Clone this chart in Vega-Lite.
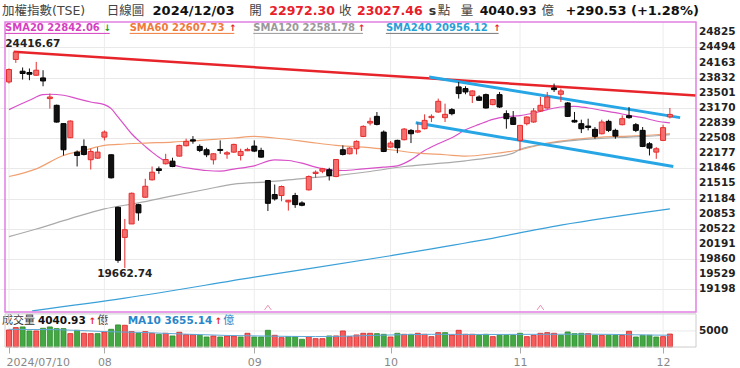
{
  "$schema": "https://vega.github.io/schema/vega-lite/v6.json",
  "width": 740,
  "height": 368,
  "autosize": {"type": "fit", "contains": "padding"},
  "padding": {"left": 0, "top": 0, "right": 4, "bottom": 1},
  "background": "white",
  "config": {
    "view": {"stroke": null},
    "font": "DejaVu Sans, Noto Sans CJK TC",
    "text": {"font": "DejaVu Sans, Noto Sans CJK TC"},
    "axisY": {"labelOverlap": false, "format": "d"},
    "axisX": {"labelOverlap": false, "labelFlush": false}
  },
  "datasets": {
    "candles": [
      {"d":"2024-07-10","i":0,"o":23739,"h":24034,"l":23704,"c":24012},
      {"d":"2024-07-11","i":1,"o":24232,"h":24416.67,"l":24157,"c":24390},
      {"d":"2024-07-12","i":2,"o":23974,"h":24056,"l":23792,"c":23924},
      {"d":"2024-07-15","i":3,"o":23946,"h":24034,"l":23777,"c":23908},
      {"d":"2024-07-16","i":4,"o":23886,"h":24179,"l":23871,"c":23996},
      {"d":"2024-07-17","i":5,"o":23827,"h":23996,"l":23645,"c":23761},
      {"d":"2024-07-18","i":6,"o":23374,"h":23484,"l":23154,"c":23409},
      {"d":"2024-07-19","i":7,"o":23227,"h":23242,"l":22847,"c":22860},
      {"d":"2024-07-22","i":8,"o":22825,"h":22831,"l":22128,"c":22253},
      {"d":"2024-07-23","i":9,"o":22517,"h":22897,"l":22508,"c":22882},
      {"d":"2024-07-26","i":10,"o":22201,"h":22238,"l":21887,"c":22128},
      {"d":"2024-07-29","i":11,"o":22326,"h":22480,"l":22128,"c":22150},
      {"d":"2024-07-30","i":12,"o":22034,"h":22275,"l":21820,"c":22216},
      {"d":"2024-07-31","i":13,"o":22069,"h":22311,"l":22055,"c":22201},
      {"d":"2024-08-01","i":14,"o":22530,"h":22677,"l":22458,"c":22640},
      {"d":"2024-08-02","i":15,"o":22143,"h":22150,"l":21623,"c":21638},
      {"d":"2024-08-05","i":16,"o":20992,"h":21007,"l":19776,"c":19831},
      {"d":"2024-08-06","i":17,"o":20332,"h":20737,"l":19662.74,"c":20501},
      {"d":"2024-08-07","i":18,"o":20627,"h":21315,"l":20627,"c":21299},
      {"d":"2024-08-08","i":19,"o":21049,"h":21067,"l":20699,"c":20870},
      {"d":"2024-08-09","i":20,"o":21212,"h":21616,"l":21198,"c":21453},
      {"d":"2024-08-12","i":21,"o":21594,"h":21886,"l":21579,"c":21761},
      {"d":"2024-08-13","i":22,"o":21835,"h":21886,"l":21726,"c":21798},
      {"d":"2024-08-14","i":23,"o":21946,"h":22165,"l":21930,"c":22040},
      {"d":"2024-08-15","i":24,"o":22003,"h":22078,"l":21871,"c":21886},
      {"d":"2024-08-16","i":25,"o":22113,"h":22363,"l":22106,"c":22348},
      {"d":"2024-08-19","i":26,"o":22341,"h":22495,"l":22326,"c":22436},
      {"d":"2024-08-20","i":27,"o":22472,"h":22552,"l":22385,"c":22443},
      {"d":"2024-08-21","i":28,"o":22326,"h":22370,"l":22201,"c":22238},
      {"d":"2024-08-22","i":29,"o":22253,"h":22297,"l":22091,"c":22143},
      {"d":"2024-08-23","i":30,"o":22033,"h":22179,"l":21930,"c":22165},
      {"d":"2024-08-26","i":31,"o":22260,"h":22458,"l":22165,"c":22238},
      {"d":"2024-08-27","i":32,"o":22157,"h":22223,"l":22055,"c":22187},
      {"d":"2024-08-28","i":33,"o":22201,"h":22385,"l":22187,"c":22370},
      {"d":"2024-08-29","i":34,"o":22128,"h":22275,"l":22018,"c":22216},
      {"d":"2024-08-30","i":35,"o":22231,"h":22297,"l":22223,"c":22260},
      {"d":"2024-09-02","i":36,"o":22333,"h":22458,"l":22201,"c":22223},
      {"d":"2024-09-03","i":37,"o":22238,"h":22297,"l":22077,"c":22091},
      {"d":"2024-09-04","i":38,"o":21578,"h":21578,"l":20910,"c":21079},
      {"d":"2024-09-05","i":39,"o":21271,"h":21491,"l":21139,"c":21176},
      {"d":"2024-09-06","i":40,"o":21249,"h":21469,"l":21124,"c":21447},
      {"d":"2024-09-09","i":41,"o":21110,"h":21154,"l":20919,"c":21146},
      {"d":"2024-09-10","i":42,"o":21249,"h":21308,"l":20979,"c":21051},
      {"d":"2024-09-11","i":43,"o":21087,"h":21124,"l":21014,"c":21036},
      {"d":"2024-09-12","i":44,"o":21374,"h":21689,"l":21359,"c":21667},
      {"d":"2024-09-13","i":45,"o":21732,"h":21798,"l":21638,"c":21761},
      {"d":"2024-09-16","i":46,"o":21783,"h":21857,"l":21739,"c":21835},
      {"d":"2024-09-18","i":47,"o":21813,"h":21857,"l":21579,"c":21688},
      {"d":"2024-09-19","i":48,"o":21666,"h":22040,"l":21651,"c":22040},
      {"d":"2024-09-20","i":49,"o":22253,"h":22348,"l":22128,"c":22150},
      {"d":"2024-09-23","i":50,"o":22165,"h":22311,"l":22150,"c":22289},
      {"d":"2024-09-24","i":51,"o":22275,"h":22458,"l":22150,"c":22436},
      {"d":"2024-09-25","i":52,"o":22545,"h":22787,"l":22530,"c":22765},
      {"d":"2024-09-26","i":53,"o":22838,"h":22957,"l":22787,"c":22875},
      {"d":"2024-09-27","i":54,"o":22985,"h":23080,"l":22787,"c":22809},
      {"d":"2024-09-30","i":55,"o":22640,"h":22677,"l":22201,"c":22216},
      {"d":"2024-10-01","i":56,"o":22311,"h":22443,"l":22297,"c":22399},
      {"d":"2024-10-04","i":57,"o":22458,"h":22473,"l":22179,"c":22297},
      {"d":"2024-10-07","i":58,"o":22473,"h":22728,"l":22458,"c":22706},
      {"d":"2024-10-08","i":59,"o":22677,"h":22706,"l":22399,"c":22604},
      {"d":"2024-10-09","i":60,"o":22640,"h":22853,"l":22618,"c":22670},
      {"d":"2024-10-11","i":61,"o":22714,"h":23029,"l":22699,"c":22897},
      {"d":"2024-10-14","i":62,"o":22957,"h":23029,"l":22860,"c":22985},
      {"d":"2024-10-15","i":63,"o":23080,"h":23374,"l":23066,"c":23315},
      {"d":"2024-10-16","i":64,"o":22956,"h":23264,"l":22860,"c":23029},
      {"d":"2024-10-17","i":65,"o":23132,"h":23168,"l":23007,"c":23044},
      {"d":"2024-10-18","i":66,"o":23630,"h":23739,"l":23374,"c":23484},
      {"d":"2024-10-21","i":67,"o":23593,"h":23645,"l":23469,"c":23520},
      {"d":"2024-10-22","i":68,"o":23440,"h":23557,"l":23278,"c":23542},
      {"d":"2024-10-23","i":69,"o":23410,"h":23447,"l":23322,"c":23337},
      {"d":"2024-10-24","i":70,"o":23461,"h":23484,"l":23154,"c":23168},
      {"d":"2024-10-25","i":71,"o":23242,"h":23366,"l":23227,"c":23352},
      {"d":"2024-10-28","i":72,"o":23461,"h":23520,"l":23168,"c":23190},
      {"d":"2024-10-29","i":73,"o":23044,"h":23117,"l":22714,"c":22934},
      {"d":"2024-10-30","i":74,"o":22956,"h":23102,"l":22795,"c":22809},
      {"d":"2024-11-01","i":75,"o":22458,"h":22787,"l":22238,"c":22787},
      {"d":"2024-11-04","i":76,"o":22824,"h":22985,"l":22787,"c":22971},
      {"d":"2024-11-05","i":77,"o":22861,"h":23168,"l":22846,"c":23103},
      {"d":"2024-11-06","i":78,"o":23103,"h":23410,"l":23081,"c":23227},
      {"d":"2024-11-07","i":79,"o":23168,"h":23520,"l":23154,"c":23410},
      {"d":"2024-11-08","i":80,"o":23608,"h":23703,"l":23520,"c":23571},
      {"d":"2024-11-11","i":81,"o":23469,"h":23593,"l":23300,"c":23542},
      {"d":"2024-11-12","i":82,"o":23278,"h":23300,"l":22971,"c":22985},
      {"d":"2024-11-13","i":83,"o":22897,"h":23081,"l":22846,"c":22861},
      {"d":"2024-11-14","i":84,"o":22824,"h":22912,"l":22619,"c":22714},
      {"d":"2024-11-15","i":85,"o":22773,"h":22934,"l":22677,"c":22743},
      {"d":"2024-11-18","i":86,"o":22700,"h":22751,"l":22494,"c":22546},
      {"d":"2024-11-19","i":87,"o":22604,"h":22912,"l":22590,"c":22861},
      {"d":"2024-11-20","i":88,"o":22875,"h":22912,"l":22641,"c":22678},
      {"d":"2024-11-21","i":89,"o":22678,"h":22714,"l":22494,"c":22553},
      {"d":"2024-11-22","i":90,"o":22802,"h":23007,"l":22787,"c":22934},
      {"d":"2024-11-25","i":91,"o":22999,"h":23190,"l":22934,"c":22956},
      {"d":"2024-11-26","i":92,"o":22802,"h":22839,"l":22641,"c":22678},
      {"d":"2024-11-27","i":93,"o":22678,"h":22751,"l":22311,"c":22326},
      {"d":"2024-11-28","i":94,"o":22384,"h":22421,"l":22128,"c":22289},
      {"d":"2024-11-29","i":95,"o":22201,"h":22311,"l":22055,"c":22275},
      {"d":"2024-12-02","i":96,"o":22458,"h":22802,"l":22443,"c":22736.93},
      {"d":"2024-12-03","i":97,"o":22972.3,"h":23168,"l":22940,"c":23027.46}
    ],
    "vol": [
      {"i":0,"v":5312,"dir":"up"},{"i":1,"v":6042,"dir":"up"},{"i":2,"v":6250,"dir":"down"},{"i":3,"v":5000,"dir":"down"},
      {"i":4,"v":5000,"dir":"up"},{"i":5,"v":5833,"dir":"down"},{"i":6,"v":6250,"dir":"down"},{"i":7,"v":5729,"dir":"down"},
      {"i":8,"v":5729,"dir":"down"},{"i":9,"v":4167,"dir":"up"},{"i":10,"v":5208,"dir":"down"},{"i":11,"v":4271,"dir":"up"},
      {"i":12,"v":4167,"dir":"up"},{"i":13,"v":4167,"dir":"down"},{"i":14,"v":4688,"dir":"up"},{"i":15,"v":5521,"dir":"down"},
      {"i":16,"v":6875,"dir":"down"},{"i":17,"v":6771,"dir":"up"},{"i":18,"v":4792,"dir":"up"},{"i":19,"v":4271,"dir":"down"},
      {"i":20,"v":4792,"dir":"up"},{"i":21,"v":4271,"dir":"up"},{"i":22,"v":3958,"dir":"down"},{"i":23,"v":4271,"dir":"up"},
      {"i":24,"v":3438,"dir":"down"},{"i":25,"v":4583,"dir":"up"},{"i":26,"v":3854,"dir":"up"},{"i":27,"v":3854,"dir":"up"},
      {"i":28,"v":3646,"dir":"down"},{"i":29,"v":3125,"dir":"down"},{"i":30,"v":3438,"dir":"up"},{"i":31,"v":3125,"dir":"down"},
      {"i":32,"v":3438,"dir":"up"},{"i":33,"v":3438,"dir":"up"},{"i":34,"v":3125,"dir":"down"},{"i":35,"v":4271,"dir":"up"},
      {"i":36,"v":3125,"dir":"down"},{"i":37,"v":3125,"dir":"down"},{"i":38,"v":5208,"dir":"down"},{"i":39,"v":3646,"dir":"up"},
      {"i":40,"v":2917,"dir":"up"},{"i":41,"v":3229,"dir":"down"},{"i":42,"v":3229,"dir":"down"},{"i":43,"v":2396,"dir":"down"},
      {"i":44,"v":3229,"dir":"up"},{"i":45,"v":2604,"dir":"up"},{"i":46,"v":2604,"dir":"up"},{"i":47,"v":3438,"dir":"down"},
      {"i":48,"v":3438,"dir":"up"},{"i":49,"v":5000,"dir":"up"},{"i":50,"v":3229,"dir":"up"},{"i":51,"v":3750,"dir":"up"},
      {"i":52,"v":4271,"dir":"up"},{"i":53,"v":4271,"dir":"up"},{"i":54,"v":4167,"dir":"down"},{"i":55,"v":3958,"dir":"down"},
      {"i":56,"v":3125,"dir":"up"},{"i":57,"v":4271,"dir":"down"},{"i":58,"v":3958,"dir":"up"},{"i":59,"v":3958,"dir":"down"},
      {"i":60,"v":4271,"dir":"up"},{"i":61,"v":3958,"dir":"up"},{"i":62,"v":3229,"dir":"up"},{"i":63,"v":4479,"dir":"up"},
      {"i":64,"v":4479,"dir":"down"},{"i":65,"v":3750,"dir":"up"},{"i":66,"v":5208,"dir":"up"},{"i":67,"v":3958,"dir":"up"},
      {"i":68,"v":3958,"dir":"up"},{"i":69,"v":3646,"dir":"down"},{"i":70,"v":3958,"dir":"down"},{"i":71,"v":3229,"dir":"up"},
      {"i":72,"v":3646,"dir":"down"},{"i":73,"v":3646,"dir":"down"},{"i":74,"v":3646,"dir":"down"},{"i":75,"v":4271,"dir":"down"},
      {"i":76,"v":3229,"dir":"up"},{"i":77,"v":3646,"dir":"up"},{"i":78,"v":4271,"dir":"up"},{"i":79,"v":4479,"dir":"up"},
      {"i":80,"v":4271,"dir":"up"},{"i":81,"v":3646,"dir":"down"},{"i":82,"v":4688,"dir":"down"},{"i":83,"v":4167,"dir":"down"},
      {"i":84,"v":4271,"dir":"down"},{"i":85,"v":4167,"dir":"up"},{"i":86,"v":3646,"dir":"down"},{"i":87,"v":3646,"dir":"up"},
      {"i":88,"v":3646,"dir":"down"},{"i":89,"v":3646,"dir":"down"},{"i":90,"v":3646,"dir":"up"},{"i":91,"v":4896,"dir":"up"},
      {"i":92,"v":3125,"dir":"down"},{"i":93,"v":3646,"dir":"down"},{"i":94,"v":3646,"dir":"down"},{"i":95,"v":3125,"dir":"down"},
      {"i":96,"v":3229,"dir":"up"},{"i":97,"v":4040.93,"dir":"up"}
    ],
    "vma": [
      {"i":0,"v":5500},{"i":7,"v":5400},{"i":14,"v":4800},{"i":20,"v":4500},{"i":26,"v":4000},{"i":32,"v":3600},
      {"i":38,"v":3400},{"i":45,"v":3250},{"i":50,"v":3400},{"i":55,"v":3700},{"i":62,"v":3950},{"i":70,"v":3900},
      {"i":78,"v":3950},{"i":85,"v":4000},{"i":92,"v":3800},{"i":97,"v":3655.14}
    ],
    "sma": [
      {"s":"SMA20","i":0,"v":23132},{"s":"SMA20","i":3,"v":23337},{"s":"SMA20","i":5,"v":23461},{"s":"SMA20","i":6,"v":23469},
      {"s":"SMA20","i":8,"v":23447},{"s":"SMA20","i":10,"v":23374},{"s":"SMA20","i":12,"v":23300},{"s":"SMA20","i":14,"v":23242},
      {"s":"SMA20","i":15,"v":23154},{"s":"SMA20","i":16,"v":22971},{"s":"SMA20","i":17,"v":22788},{"s":"SMA20","i":18,"v":22604},
      {"s":"SMA20","i":19,"v":22458},{"s":"SMA20","i":20,"v":22326},{"s":"SMA20","i":21,"v":22201},{"s":"SMA20","i":22,"v":22091},
      {"s":"SMA20","i":23,"v":22003},{"s":"SMA20","i":24,"v":21930},{"s":"SMA20","i":25,"v":21886},{"s":"SMA20","i":27,"v":21835},
      {"s":"SMA20","i":29,"v":21798},{"s":"SMA20","i":31,"v":21784},{"s":"SMA20","i":33,"v":21830},{"s":"SMA20","i":36,"v":21901},
      {"s":"SMA20","i":39,"v":22033},{"s":"SMA20","i":41,"v":22018},{"s":"SMA20","i":43,"v":21960},{"s":"SMA20","i":45,"v":21872},
      {"s":"SMA20","i":47,"v":21813},{"s":"SMA20","i":49,"v":21798},{"s":"SMA20","i":52,"v":21835},{"s":"SMA20","i":55,"v":21872},
      {"s":"SMA20","i":57,"v":21901},{"s":"SMA20","i":59,"v":22033},{"s":"SMA20","i":61,"v":22238},{"s":"SMA20","i":63,"v":22384},
      {"s":"SMA20","i":65,"v":22516},{"s":"SMA20","i":67,"v":22690},{"s":"SMA20","i":69,"v":22809},{"s":"SMA20","i":71,"v":22919},
      {"s":"SMA20","i":73,"v":22978},{"s":"SMA20","i":75,"v":23000},{"s":"SMA20","i":77,"v":23058},{"s":"SMA20","i":79,"v":23132},
      {"s":"SMA20","i":81,"v":23190},{"s":"SMA20","i":83,"v":23205},{"s":"SMA20","i":85,"v":23168},{"s":"SMA20","i":87,"v":23117},
      {"s":"SMA20","i":89,"v":23066},{"s":"SMA20","i":91,"v":23007},{"s":"SMA20","i":93,"v":22956},{"s":"SMA20","i":95,"v":22883},
      {"s":"SMA20","i":97,"v":22842.06},
      {"s":"SMA60","i":0,"v":21666},{"s":"SMA60","i":4,"v":21835},{"s":"SMA60","i":8,"v":22128},{"s":"SMA60","i":11,"v":22238},
      {"s":"SMA60","i":14,"v":22348},{"s":"SMA60","i":16,"v":22370},{"s":"SMA60","i":20,"v":22399},{"s":"SMA60","i":24,"v":22421},
      {"s":"SMA60","i":28,"v":22458},{"s":"SMA60","i":33,"v":22510},{"s":"SMA60","i":36,"v":22546},{"s":"SMA60","i":40,"v":22494},
      {"s":"SMA60","i":44,"v":22421},{"s":"SMA60","i":48,"v":22348},{"s":"SMA60","i":52,"v":22311},{"s":"SMA60","i":56,"v":22253},
      {"s":"SMA60","i":60,"v":22179},{"s":"SMA60","i":64,"v":22143},{"s":"SMA60","i":67,"v":22113},{"s":"SMA60","i":71,"v":22165},
      {"s":"SMA60","i":75,"v":22253},{"s":"SMA60","i":79,"v":22399},{"s":"SMA60","i":83,"v":22480},{"s":"SMA60","i":87,"v":22531},
      {"s":"SMA60","i":91,"v":22553},{"s":"SMA60","i":95,"v":22582},{"s":"SMA60","i":97,"v":22607.73},
      {"s":"SMA120","i":0,"v":20348},{"s":"SMA120","i":4,"v":20516},{"s":"SMA120","i":9,"v":20743},{"s":"SMA120","i":14,"v":20956},
      {"s":"SMA120","i":19,"v":21088},{"s":"SMA120","i":24,"v":21242},{"s":"SMA120","i":29,"v":21388},{"s":"SMA120","i":33,"v":21500},
      {"s":"SMA120","i":38,"v":21549},{"s":"SMA120","i":43,"v":21622},{"s":"SMA120","i":48,"v":21688},{"s":"SMA120","i":53,"v":21776},
      {"s":"SMA120","i":58,"v":21886},{"s":"SMA120","i":62,"v":21940},{"s":"SMA120","i":67,"v":22010},{"s":"SMA120","i":71,"v":22090},
      {"s":"SMA120","i":74,"v":22179},{"s":"SMA120","i":75,"v":22260},{"s":"SMA120","i":79,"v":22384},{"s":"SMA120","i":83,"v":22458},
      {"s":"SMA120","i":87,"v":22502},{"s":"SMA120","i":91,"v":22531},{"s":"SMA120","i":95,"v":22560},{"s":"SMA120","i":97,"v":22581.78},
      {"s":"SMA240","i":3.4,"v":18721},{"s":"SMA240","i":17,"v":19000},{"s":"SMA240","i":36,"v":19460},{"s":"SMA240","i":56,"v":19930},
      {"s":"SMA240","i":69,"v":20260},{"s":"SMA240","i":81,"v":20600},{"s":"SMA240","i":97,"v":20956.12}
    ],
    "trend": [
      {"k":"R","i":0.69,"v":24400},{"k":"R","i":100.83,"v":23443},
      {"k":"U","i":61.66,"v":23849},{"k":"U","i":98.5,"v":22957},
      {"k":"L","i":59.7,"v":22847},{"k":"L","i":97.5,"v":21886}
    ],
    "months": [
      {"i":0,"m":"2024/07/10"},{"i":14,"m":"08"},{"i":36,"m":"09"},{"i":56,"m":"10"},{"i":75,"m":"11"},{"i":96,"m":"12"}
    ],
    "yticks": [
      {"v":24825},{"v":24494},{"v":24163},{"v":23832},{"v":23501},{"v":23170},{"v":22839},{"v":22508},{"v":22177},
      {"v":21846},{"v":21515},{"v":21184},{"v":20853},{"v":20522},{"v":20191},{"v":19860},{"v":19529},{"v":19198}
    ],
    "ext": [
      {"i":1,"v":24416.67,"k":"high"},{"i":17,"v":19662.74,"k":"low"}
    ],
    "signals": [{"i":38},{"i":78}]
  },
  "resolve": {"scale": {"y": "independent"}},
  "layer": [
    {
      "layer": [
        {
          "data": {"name": "months"},
          "mark": {"type": "rule", "color": "#ececec", "strokeWidth": 1},
          "encoding": {
            "x": {"field": "i", "type": "quantitative", "title": null,
                  "scale": {"domain": [-0.585, 100.83], "nice": false, "zero": false},
                  "axis": {"values": [0, 14, 36, 56, 75, 96],
                           "labelExpr": "datum.value == 0 ? '2024/07/10' : datum.value == 14 ? '08' : datum.value == 36 ? '09' : datum.value == 56 ? '10' : datum.value == 75 ? '11' : '12'",
                           "grid": false, "domain": false, "ticks": true, "tickSize": 6, "tickColor": "#aaaaaa",
                           "labelColor": "#888888", "labelFontSize": 11, "labelFont": "DejaVu Sans", "labelPadding": 3,
                           "labelFlush": false, "labelOverlap": false, "title": null,
                           "labelAlign": {"condition": {"test": "datum.value == 0", "value": "left"}, "value": "center"},
                           "labelOffset": {"condition": {"test": "datum.value == 0", "value": -3}, "value": 0}}},
            "y": {"datum": 18699, "title": null,
                  "scale": {"domain": [17930, 25535], "nice": false, "zero": false},
                  "axis": {"orient": "right", "title": null,
                           "values": [24825, 24494, 24163, 23832, 23501, 23170, 22839, 22508, 22177, 21846, 21515, 21184, 20853, 20522, 20191, 19860, 19529, 19198],
                           "grid": true, "gridColor": "#e9e9e9", "ticks": false, "domain": false, "labels": false}},
            "y2": {"datum": 25051}
          }
        },
        {
          "data": {"name": "sma"},
          "mark": {"type": "line", "interpolate": "monotone", "strokeWidth": 1.2, "clip": true},
          "encoding": {
            "x": {"field": "i", "type": "quantitative", "title": null},
            "y": {"field": "v", "type": "quantitative", "title": null},
            "color": {"field": "s", "type": "nominal", "legend": null,
                      "scale": {"domain": ["SMA20", "SMA60", "SMA120", "SMA240"], "range": ["#d850c8", "#f0a070", "#aaaaaa", "#3aa0d8"]}}
          }
        },
        {
          "data": {"name": "trend"},
          "transform": [{"filter": "datum.k == 'R'"}],
          "mark": {"type": "line", "color": "#e8242b", "strokeWidth": 2.5},
          "encoding": {
            "x": {"field": "i", "type": "quantitative", "title": null},
            "y": {"field": "v", "type": "quantitative", "title": null}
          }
        },
        {
          "data": {"name": "trend"},
          "transform": [{"filter": "datum.k != 'R'"}],
          "mark": {"type": "line", "color": "#27a6e6", "strokeWidth": 3},
          "encoding": {
            "x": {"field": "i", "type": "quantitative", "title": null},
            "y": {"field": "v", "type": "quantitative", "title": null},
            "detail": {"field": "k"}
          }
        },
        {
          "data": {"name": "candles"},
          "mark": {"type": "rule", "strokeWidth": 1},
          "encoding": {
            "x": {"field": "i", "type": "quantitative", "title": null},
            "y": {"field": "l", "type": "quantitative", "title": null},
            "y2": {"field": "h"},
            "color": {"condition": {"test": "datum.c >= datum.o", "value": "#e52d2d"}, "value": "#111111"}
          }
        },
        {
          "data": {"name": "candles"},
          "mark": {"type": "bar", "size": 5, "strokeWidth": 1},
          "encoding": {
            "x": {"field": "i", "type": "quantitative", "title": null},
            "y": {"field": "o", "type": "quantitative", "title": null},
            "y2": {"field": "c"},
            "fill": {"condition": {"test": "datum.c >= datum.o", "value": "#f56e6e"}, "value": "#111111"},
            "stroke": {"condition": {"test": "datum.c >= datum.o", "value": "#e52d2d"}, "value": "#000000"}
          }
        },
        {
          "data": {"name": "signals"},
          "mark": {"type": "point", "shape": "M-1,0.7L0,-0.7L1,0.7", "filled": false, "size": 45, "stroke": "#ec8fb0", "strokeWidth": 1, "opacity": 1},
          "encoding": {
            "x": {"field": "i", "type": "quantitative", "title": null},
            "y": {"datum": 18794}
          }
        },
        {
          "data": {"name": "ext"},
          "transform": [{"filter": "datum.k == 'high'"}],
          "mark": {"type": "text", "align": "left", "baseline": "middle", "dx": -10.5, "dy": -6.7, "fontSize": 10.5, "fontWeight": "bold", "color": "#222222", "font": "DejaVu Sans"},
          "encoding": {
            "x": {"field": "i", "type": "quantitative", "title": null},
            "y": {"field": "v", "type": "quantitative", "title": null},
            "text": {"field": "v", "type": "quantitative", "format": ".2f"}
          }
        },
        {
          "data": {"name": "ext"},
          "transform": [{"filter": "datum.k == 'low'"}],
          "mark": {"type": "text", "align": "center", "baseline": "middle", "dx": 0, "dy": 5.6, "fontSize": 10.5, "fontWeight": "bold", "color": "#222222", "font": "DejaVu Sans"},
          "encoding": {
            "x": {"field": "i", "type": "quantitative", "title": null},
            "y": {"field": "v", "type": "quantitative", "title": null},
            "text": {"field": "v", "type": "quantitative", "format": ".2f"}
          }
        },
        {
          "data": {"name": "yticks"},
          "mark": {"type": "text", "align": "left", "baseline": "middle", "dx": 3, "fontSize": 10.5, "fontWeight": "bold", "color": "#222222", "font": "DejaVu Sans"},
          "encoding": {
            "x": {"datum": 100.83},
            "y": {"field": "v", "type": "quantitative", "title": null},
            "text": {"field": "v", "type": "quantitative", "format": "d"}
          }
        },
        {
          "data": {"values": [{}]},
          "mark": {"type": "rect", "fillOpacity": 0, "stroke": "#e27fe2", "strokeWidth": 1.5},
          "encoding": {
            "x": {"datum": -0.585}, "x2": {"datum": 100.83},
            "y": {"datum": 18699}, "y2": {"datum": 25051}
          }
        },
        {"data": {"values": [{}]}, "mark": {"type": "text", "align": "left", "baseline": "middle", "fontSize": 12.5, "color": "#444444", "text": "加權指數(TSE)"},
         "encoding": {"x": {"datum": -1.024}, "y": {"datum": 25293}}},
        {"data": {"values": [{}]}, "mark": {"type": "text", "align": "left", "baseline": "middle", "fontSize": 12.5, "color": "#444444", "text": "日線圖"},
         "encoding": {"x": {"datum": 14.342}, "y": {"datum": 25293}}},
        {"data": {"values": [{}]}, "mark": {"type": "text", "align": "left", "baseline": "middle", "fontSize": 13, "fontWeight": "bold", "color": "#111111", "text": "2024/12/03"},
         "encoding": {"x": {"datum": 21.074}, "y": {"datum": 25293}}},
        {"data": {"values": [{}]}, "mark": {"type": "text", "align": "left", "baseline": "middle", "fontSize": 12.5, "color": "#444444", "text": "開"},
         "encoding": {"x": {"datum": 35.27}, "y": {"datum": 25293}}},
        {"data": {"values": [{}]}, "mark": {"type": "text", "align": "left", "baseline": "middle", "fontSize": 12.5, "fontWeight": "bold", "color": "#e8202a", "text": "22972.30"},
         "encoding": {"x": {"datum": 38.197}, "y": {"datum": 25293}}},
        {"data": {"values": [{}]}, "mark": {"type": "text", "align": "left", "baseline": "middle", "fontSize": 12.5, "color": "#444444", "text": "收"},
         "encoding": {"x": {"datum": 48.441}, "y": {"datum": 25293}}},
        {"data": {"values": [{}]}, "mark": {"type": "text", "align": "left", "baseline": "middle", "fontSize": 12.5, "fontWeight": "bold", "color": "#e8202a", "text": "23027.46"},
         "encoding": {"x": {"datum": 51.075}, "y": {"datum": 25293}}},
        {"data": {"values": [{}]}, "mark": {"type": "text", "align": "left", "baseline": "middle", "fontSize": 12.5, "fontWeight": "bold", "color": "#333333", "text": "s"},
         "encoding": {"x": {"datum": 61.612}, "y": {"datum": 25293}}},
        {"data": {"values": [{}]}, "mark": {"type": "text", "align": "left", "baseline": "middle", "fontSize": 12.5, "color": "#444444", "text": "點"},
         "encoding": {"x": {"datum": 62.929}, "y": {"datum": 25293}}},
        {"data": {"values": [{}]}, "mark": {"type": "text", "align": "left", "baseline": "middle", "fontSize": 12.5, "color": "#444444", "text": "量"},
         "encoding": {"x": {"datum": 66.296}, "y": {"datum": 25293}}},
        {"data": {"values": [{}]}, "mark": {"type": "text", "align": "left", "baseline": "middle", "fontSize": 12.5, "fontWeight": "bold", "color": "#111111", "text": "4040.93"},
         "encoding": {"x": {"datum": 69.076}, "y": {"datum": 25293}}},
        {"data": {"values": [{}]}, "mark": {"type": "text", "align": "left", "baseline": "middle", "fontSize": 12.5, "color": "#444444", "text": "億"},
         "encoding": {"x": {"datum": 78.15}, "y": {"datum": 25293}}},
        {"data": {"values": [{}]}, "mark": {"type": "text", "align": "left", "baseline": "middle", "fontSize": 13, "fontWeight": "bold", "color": "#111111", "text": "+290.53 (+1.28%)"},
         "encoding": {"x": {"datum": 81.662}, "y": {"datum": 25293}}},
        {"data": {"values": [{}]}, "mark": {"type": "text", "align": "left", "baseline": "middle", "fontSize": 10, "fontWeight": "bold", "color": "#d63fbf", "text": "SMA20 22842.06"},
         "encoding": {"x": {"datum": -0.585}, "y": {"datum": 24920}}},
        {"data": {"values": [{}]}, "mark": {"type": "text", "align": "left", "baseline": "middle", "fontSize": 9, "fontWeight": "bold", "color": "#1f9a1f", "text": "↓"},
         "encoding": {"x": {"datum": 13.903}, "y": {"datum": 24920}}},
        {"data": {"values": [{}]}, "mark": {"type": "text", "align": "left", "baseline": "middle", "fontSize": 10, "fontWeight": "bold", "color": "#f07a3a", "text": "SMA60 22607.73"},
         "encoding": {"x": {"datum": 17.708}, "y": {"datum": 24920}}},
        {"data": {"values": [{}]}, "mark": {"type": "text", "align": "left", "baseline": "middle", "fontSize": 9, "fontWeight": "bold", "color": "#e8202a", "text": "↑"},
         "encoding": {"x": {"datum": 32.343}, "y": {"datum": 24920}}},
        {"data": {"values": [{}]}, "mark": {"type": "text", "align": "left", "baseline": "middle", "fontSize": 10, "fontWeight": "bold", "color": "#999999", "text": "SMA120 22581.78"},
         "encoding": {"x": {"datum": 35.856}, "y": {"datum": 24920}}},
        {"data": {"values": [{}]}, "mark": {"type": "text", "align": "left", "baseline": "middle", "fontSize": 9, "fontWeight": "bold", "color": "#e8202a", "text": "↑"},
         "encoding": {"x": {"datum": 51.222}, "y": {"datum": 24920}}},
        {"data": {"values": [{}]}, "mark": {"type": "text", "align": "left", "baseline": "middle", "fontSize": 10, "fontWeight": "bold", "color": "#2a9fd6", "text": "SMA240 20956.12"},
         "encoding": {"x": {"datum": 55.32}, "y": {"datum": 24920}}},
        {"data": {"values": [{}]}, "mark": {"type": "text", "align": "left", "baseline": "middle", "fontSize": 9, "fontWeight": "bold", "color": "#e8202a", "text": "↑"},
         "encoding": {"x": {"datum": 71.126}, "y": {"datum": 24920}}},
        {"data": {"values": [{}]}, "mark": {"type": "rule", "color": "#d63fbf", "strokeWidth": 1},
         "encoding": {"x": {"datum": -0.585}, "x2": {"datum": 14.78}, "y": {"datum": 24803}}},
        {"data": {"values": [{}]}, "mark": {"type": "rule", "color": "#f07a3a", "strokeWidth": 1},
         "encoding": {"x": {"datum": 17.708}, "x2": {"datum": 33.07}, "y": {"datum": 24803}}},
        {"data": {"values": [{}]}, "mark": {"type": "rule", "color": "#999999", "strokeWidth": 1},
         "encoding": {"x": {"datum": 35.856}, "x2": {"datum": 51.95}, "y": {"datum": 24803}}},
        {"data": {"values": [{}]}, "mark": {"type": "rule", "color": "#777777", "strokeWidth": 1},
         "encoding": {"x": {"datum": 55.32}, "x2": {"datum": 71.86}, "y": {"datum": 24803}}},
        {"data": {"values": [{}]}, "mark": {"type": "text", "align": "left", "baseline": "middle", "fontSize": 11, "color": "#333333", "text": "成交量"},
         "encoding": {"x": {"datum": -1.024}, "y": {"datum": 18505}}},
        {"data": {"values": [{}]}, "mark": {"type": "text", "align": "left", "baseline": "middle", "fontSize": 10.5, "fontWeight": "bold", "color": "#111111", "text": "4040.93"},
         "encoding": {"x": {"datum": 4.244}, "y": {"datum": 18505}}},
        {"data": {"values": [{}]}, "mark": {"type": "text", "align": "left", "baseline": "middle", "fontSize": 9, "fontWeight": "bold", "color": "#e8202a", "text": "↑"},
         "encoding": {"x": {"datum": 11.708}, "y": {"datum": 18505}}},
        {"data": {"values": [{}]}, "mark": {"type": "text", "align": "left", "baseline": "middle", "fontSize": 11, "color": "#333333", "text": "億"},
         "encoding": {"x": {"datum": 12.95}, "y": {"datum": 18505}}},
        {"data": {"values": [{}]}, "mark": {"type": "text", "align": "left", "baseline": "middle", "fontSize": 10.5, "fontWeight": "bold", "color": "#2a86c8", "text": "MA10 3655.14"},
         "encoding": {"x": {"datum": 17.415}, "y": {"datum": 18505}}},
        {"data": {"values": [{}]}, "mark": {"type": "text", "align": "left", "baseline": "middle", "fontSize": 9, "fontWeight": "bold", "color": "#e8202a", "text": "↑"},
         "encoding": {"x": {"datum": 30.2}, "y": {"datum": 18505}}},
        {"data": {"values": [{}]}, "mark": {"type": "text", "align": "left", "baseline": "middle", "fontSize": 11, "color": "#2a86c8", "text": "億"},
         "encoding": {"x": {"datum": 31.45}, "y": {"datum": 18505}}}
      ]
    },
    {
      "layer": [
        {
          "data": {"name": "months"},
          "mark": {"type": "rule", "color": "#ececec", "strokeWidth": 1},
          "encoding": {
            "x": {"field": "i", "type": "quantitative", "title": null},
            "y": {"datum": 0, "axis": null, "title": null, "scale": {"domain": [0, 108125], "nice": false, "zero": true}},
            "y2": {"datum": 10312}
          }
        },
        {
          "data": {"values": [{}]},
          "mark": {"type": "rule", "color": "#e9e9e9", "strokeWidth": 1},
          "encoding": {
            "x": {"datum": -0.585}, "x2": {"datum": 100.83},
            "y": {"datum": 5000, "axis": null}
          }
        },
        {
          "data": {"name": "vol"},
          "mark": {"type": "bar", "size": 5, "strokeWidth": 0.8},
          "encoding": {
            "x": {"field": "i", "type": "quantitative", "title": null},
            "y": {"field": "v", "type": "quantitative", "title": null, "axis": null},
            "fill": {"condition": {"test": "datum.dir == 'up'", "value": "#f75c5c"}, "value": "#43a843"},
            "stroke": {"condition": {"test": "datum.dir == 'up'", "value": "#d42323"}, "value": "#2a8a2a"}
          }
        },
        {
          "data": {"name": "vma"},
          "mark": {"type": "line", "interpolate": "monotone", "color": "#5fa8d8", "strokeWidth": 1},
          "encoding": {
            "x": {"field": "i", "type": "quantitative", "title": null},
            "y": {"field": "v", "type": "quantitative", "title": null, "axis": null}
          }
        },
        {
          "data": {"values": [{}]},
          "mark": {"type": "rect", "fillOpacity": 0, "stroke": "#cccccc", "strokeWidth": 1},
          "encoding": {
            "x": {"datum": -0.585}, "x2": {"datum": 100.83},
            "y": {"datum": 0, "axis": null}, "y2": {"datum": 10312}
          }
        },
        {
          "data": {"values": [{}]},
          "mark": {"type": "text", "align": "left", "baseline": "middle", "dx": 3, "fontSize": 10.5, "fontWeight": "bold", "color": "#222222", "font": "DejaVu Sans", "text": "5000"},
          "encoding": {
            "x": {"datum": 100.83},
            "y": {"datum": 5000, "axis": null}
          }
        }
      ]
    }
  ]
}
